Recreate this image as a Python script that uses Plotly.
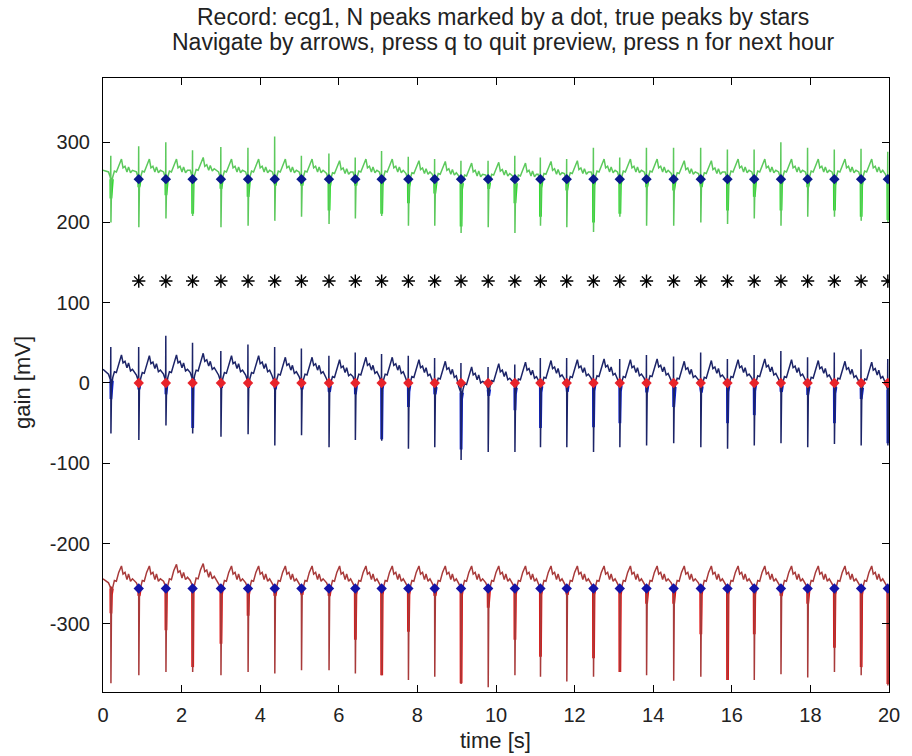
import plotly.graph_objects as go

# ---------------- data ----------------
# times of the marked beats (dots and stars) [s]
beat_t = [0.91, 1.60, 2.28, 3.00, 3.69, 4.37, 5.05, 5.75, 6.42, 7.09, 7.77, 8.44, 9.11, 9.80,
          10.48, 11.13, 11.80, 12.48, 13.15, 13.83, 14.52, 15.21, 15.89, 16.57, 17.25, 17.93,
          18.61, 19.29, 19.97]
first_beat_t = 0.20          # unmarked beat at the very start
star_level = 127             # "true peaks" row

# level of the N-peak dots for each lead
green_level = 254
blue_level = 0
red_level = -256

# beat-template time points relative to the R peak [s]; index 3 = R, index 4 = S
tpl_t = [-0.06, -0.025, -0.006, -0.002, 0.002, 0.018, 0.05, 0.09, 0.14, 0.20, 0.27, 0.31, 0.36, 0.41, 0.45, 0.50, 0.55]
green_tpl = [9, 4, 0, 0, 0, -5, 3, 10, 9, 17, 25, 14, 16, 9, 15, 8, 11]
blue_tpl = [8, 3, 0, 0, 0, -6, 4, 11, 10, 20, 32, 22, 24, 16, 22, 12, 14]
red_tpl = [7, 3, 0, 3, 0, -5, 2, 10, 9, 20, 28, 18, 20, 11, 18, 9, 12]

# per beat (first = unmarked start beat) values
green_base = [0, 0, 0, 2, 0, 0, 0, 0, -2, 0, 0, -2, -3, -5, -4, -5, -3, -2, 0, 0, 0, -2, -2, 0, 0, 0, 0, 0, 0, -3]
green_r = [283, 295, 300, 290, 294, 293, 307, 283, 286, 281, 289, 282, 279, 277, 277, 283, 281, 279, 293, 281,
           293, 293, 293, 291, 291, 300, 293, 291, 292, 288]
green_s = [200, 194, 205, 208, 194, 196, 202, 207, 198, 205, 208, 196, 196, 187, 194, 187, 196, 194, 188, 207,
           196, 196, 200, 198, 205, 196, 207, 207, 202, 200]
green_hi = [230, 244, 234, 211, 242, 232, 250, 248, 215, 248, 211, 224, 236, 195, 248, 224, 207, 240, 200, 211,
            244, 240, 248, 215, 232, 215, 244, 215, 207, 203]

blue_base = [3, 2, 3, 5, 2, 2, 0, 0, -3, 0, 0, -3, -5, -12, -8, -6, -4, -3, -2, -3, -2, -5, -4, -3, -2, -3, -4, -5, -6, -8]
blue_r = [45, 45, 59, 50, 40, 48, 45, 43, 34, 38, 36, 34, 31, 25, 20, 23, 31, 31, 35, 30,
          35, 33, 38, 30, 35, 40, 32, 38, 42, 30]
blue_s = [-63, -71, -53, -63, -67, -64, -78, -65, -80, -71, -72, -82, -80, -96, -86, -86, -80, -80, -86, -80,
          -78, -75, -80, -82, -78, -75, -80, -76, -78, -78]
blue_hi = [-20, -8, -14, -56, -5, -3, -5, -5, -10, -14, -70, -30, -14, -83, -10, -34, -56, -5, -55, -50,
           -10, -30, -8, -50, -40, -10, -15, -50, -20, -75]

red_base = [0, 0, 2, 3, 0, 0, 0, 0, 0, 0, 0, 0, 0, 0, 0, 0, 0, 0, 0, 0, 0, 0, 0, 0, 0, 0, 0, 0, 0, 0]
red_s = [-374, -364, -360, -360, -364, -360, -362, -358, -358, -362, -364, -370, -366, -375, -379, -364, -366,
         -372, -366, -360, -364, -371, -366, -370, -370, -363, -367, -360, -364, -377]
red_hi = [-287, -265, -308, -354, -325, -290, -265, -262, -265, -320, -364, -310, -265, -374, -280, -320, -341,
          -262, -343, -360, -275, -275, -313, -370, -313, -265, -275, -330, -354, -375]

x_ticks = [0, 2, 4, 6, 8, 10, 12, 14, 16, 18, 20]
y_ticks = [-300, -200, -100, 0, 100, 200, 300]
y_tick_text = ['-300', '-200', '-100', '0', '100', '200', '300']

# ---------------- build traces ----------------
all_t = [first_beat_t] + beat_t
R_IDX, S_IDX = 3, 4


def build_main(level, base, tpl, r_vals, s_vals):
    xs = [0.0]
    ys = [level + base[0] + tpl[-1]]
    for i, t0 in enumerate(all_t):
        for k, dt in enumerate(tpl_t):
            if k == R_IDX and r_vals is not None:
                y = r_vals[i]
            elif k == S_IDX:
                y = s_vals[i]
            else:
                y = level + base[i] + tpl[k]
            xs.append(t0 + dt)
            ys.append(y)
    return xs, ys


def build_highlight(level, base, hi):
    xs, ys = [], []
    for i, t0 in enumerate(all_t):
        b = level + base[i]
        xs += [t0 - 0.02, t0 - 0.002, t0 + 0.002, t0 + 0.015, t0 + 0.04, None]
        ys += [b, b, hi[i], b - 8, b, None]
    return xs, ys


leads = [
    dict(level=green_level, base=green_base, tpl=green_tpl, r=green_r, s=green_s, hi=green_hi,
         main='#5cc95c', bright='#22e022', dot='#0b1a8c'),
    dict(level=blue_level, base=blue_base, tpl=blue_tpl, r=blue_r, s=blue_s, hi=blue_hi,
         main='#1c2468', bright='#0a1ed0', dot='#e8232a'),
    dict(level=red_level, base=red_base, tpl=red_tpl, r=None, s=red_s, hi=red_hi,
         main='#a83a3a', bright='#e81010', dot='#1414a8'),
]

fig = go.Figure()
for L in leads:
    hx, hy = build_highlight(L['level'], L['base'], L['hi'])
    fig.add_trace(go.Scatter(x=hx, y=hy, mode='lines', line=dict(color=L['bright'], width=2.8),
                             hoverinfo='skip', showlegend=False))
    mx, my = build_main(L['level'], L['base'], L['tpl'], L['r'], L['s'])
    fig.add_trace(go.Scatter(x=mx, y=my, mode='lines', line=dict(color=L['main'], width=1.5),
                             showlegend=False))
    fig.add_trace(go.Scatter(x=beat_t, y=[L['level']] * len(beat_t), mode='markers',
                             marker=dict(symbol='diamond', size=8, color=L['dot']),
                             showlegend=False))

fig.add_trace(go.Scatter(x=beat_t, y=[star_level] * len(beat_t), mode='markers',
                         marker=dict(symbol='asterisk-open', size=11, color='black',
                                     line=dict(color='black', width=1.4)),
                         showlegend=False))

font_family = 'Liberation Sans, Arial, sans-serif'
txt_color = '#222222'
axis_common = dict(showline=True, linecolor='black', linewidth=1.2, mirror='ticks',
                   ticks='inside', ticklen=7, tickcolor='black', tickwidth=1.2,
                   showgrid=False, zeroline=False,
                   tickfont=dict(family=font_family, size=20, color=txt_color))

fig.update_layout(
    width=912, height=756,
    margin=dict(l=103, r=13, t=78, b=64),
    paper_bgcolor='white', plot_bgcolor='white',
    xaxis=dict(range=[0, 20], tickvals=x_ticks, ticklabelstandoff=5, **axis_common),
    yaxis=dict(range=[-385, 380], tickvals=y_ticks, ticktext=y_tick_text, ticklabelstandoff=8,
               **axis_common),
    annotations=[
        dict(text='Record: ecg1, N peaks marked by a dot, true peaks by stars', x=0.509, y=1.0993,
             xref='paper', yref='paper', showarrow=False, xanchor='center', yanchor='middle',
             font=dict(family=font_family, size=23, color=txt_color)),
        dict(text='Navigate by arrows, press q to quit preview, press n for next hour', x=0.509, y=1.0586,
             xref='paper', yref='paper', showarrow=False, xanchor='center', yanchor='middle',
             font=dict(family=font_family, size=23, color=txt_color)),
        dict(text='time [s]', x=0.499, y=-0.0798, xref='paper', yref='paper', showarrow=False,
             xanchor='center', yanchor='middle', font=dict(family=font_family, size=22, color=txt_color)),
        dict(text='gain [mV]', x=-0.1018, y=0.505, xref='paper', yref='paper', showarrow=False,
             textangle=-90, xanchor='center', yanchor='middle',
             font=dict(family=font_family, size=22, color=txt_color)),
    ],
)

fig.write_html('out.html')
